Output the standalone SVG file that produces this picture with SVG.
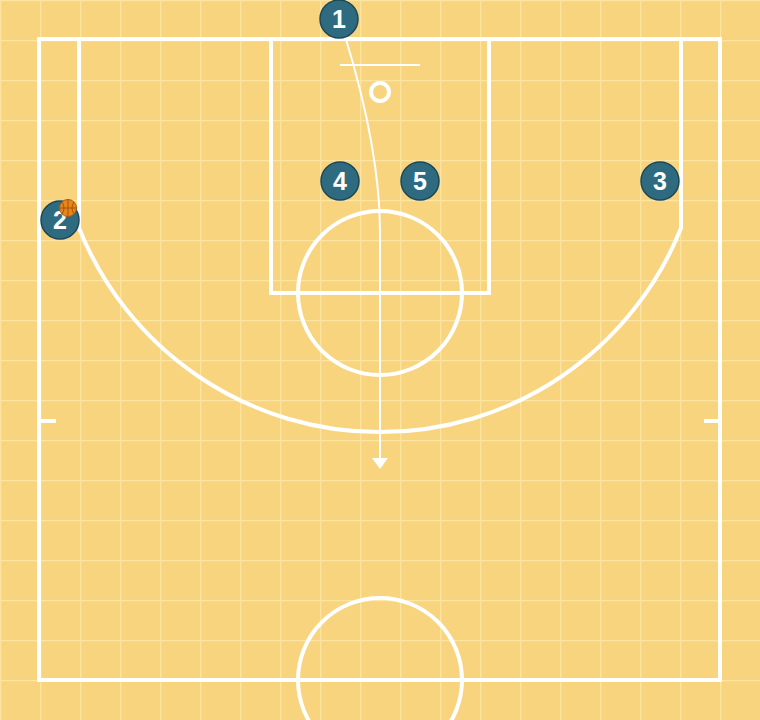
<svg xmlns="http://www.w3.org/2000/svg" width="760" height="720" viewBox="0 0 760 720">
<defs>
<pattern id="grid" x="0" y="0" width="40" height="40" patternUnits="userSpaceOnUse">
<path d="M0 0H40M0 0V40" stroke="#fde4a0" stroke-width="2.5" fill="none"/>
</pattern>
<marker id="arrow" viewBox="0 0 12 16" refX="2" refY="8" markerWidth="12" markerHeight="16" markerUnits="userSpaceOnUse" orient="auto">
<path d="M0 0L11 8L0 16Z" fill="#ffffff"/>
</marker>
<style>
.court{fill:none;stroke:#ffffff;stroke-width:4}
.thin{fill:none;stroke:#ffffff;stroke-width:2}
.player circle{fill:#2f6b80;stroke:#1e4756;stroke-width:1.5}
.player text{fill:#ffffff;font-family:"Liberation Sans",Arial,sans-serif;font-weight:bold;font-size:25px;text-anchor:middle}
</style>
</defs>
<rect width="760" height="720" fill="#f9d47f"/>
<rect width="760" height="720" fill="url(#grid)"/>
<g id="court">
<rect class="court" x="39" y="39" width="681" height="641"/>
<rect class="court" x="271" y="39" width="218" height="254"/>
<circle class="court" cx="380" cy="293" r="82"/>
<path class="court" d="M79 39V228A324 324 0 0 0 681 228V39"/>
<line class="thin" x1="340" y1="65" x2="420" y2="65"/>
<circle class="court" cx="380" cy="92" r="9" stroke-width="3"/>
<circle class="court" cx="380" cy="680" r="82"/>
<line class="court" x1="39" y1="421" x2="56" y2="421"/>
<line class="court" x1="704" y1="421" x2="720" y2="421"/>
</g>
<g id="connectors">
<path class="thin" d="M345 36Q380 150 380 232V460" marker-end="url(#arrow)"/>
</g>
<g id="p1" class="player"><circle cx="339" cy="19" r="19"/><text x="339" y="28">1</text></g>
<g id="p4" class="player"><circle cx="340" cy="181" r="19"/><text x="340" y="190">4</text></g>
<g id="p5" class="player"><circle cx="420" cy="181" r="19"/><text x="420" y="190">5</text></g>
<g id="p3" class="player"><circle cx="660" cy="181" r="19"/><text x="660" y="190">3</text></g>
<g id="p2" class="player"><circle cx="60" cy="220" r="19"/><text x="60" y="229">2</text></g>
<g id="ball">
<circle cx="68" cy="208" r="8.5" fill="#e8861a" stroke="#b35a0c" stroke-width="1"/>
<path d="M59.5 208H76.5M68 199.5V216.5M62 202Q66 208 62 214M74 202Q70 208 74 214" stroke="#a04f0a" stroke-width="0.9" fill="none"/>
</g>
</svg>
